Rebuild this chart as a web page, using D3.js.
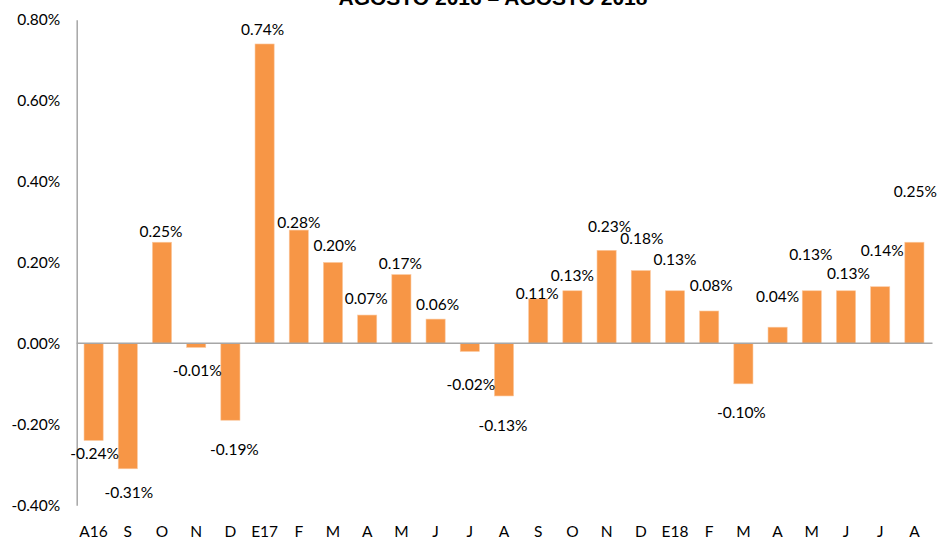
<!DOCTYPE html>
<html>
<head>
<meta charset="utf-8">
<script src="https://cdn.jsdelivr.net/npm/d3@7"></script>
<style>
  body { margin: 0; background: #fff; }
  text { font-family: Lato, "Open Sans", sans-serif; fill: #000; }
</style>
</head>
<body>
<div id="chart"></div>
<script>
// monthly change, percent
var months = ["A16","S","O","N","D","E17","F","M","A","M","J","J","A","S","O","N","D","E18","F","M","A","M","J","J","A"];
var values = [-0.24,-0.31,0.25,-0.01,-0.19,0.74,0.28,0.20,0.07,0.17,0.06,-0.02,-0.13,0.11,0.13,0.23,0.18,0.13,0.08,-0.10,0.04,0.13,0.13,0.14,0.25];
var yTicks = [-0.4,-0.2,0,0.2,0.4,0.6,0.8];
var title = "AGOSTO 2016 – AGOSTO 2018";

// hand-placed labels in the original (px from bar end)
var labelDx = [1,1,-1,1,4,-2,0,2,-1,-1,2,1,-1,-1,0,3,1,0,2,-2,0,-1,2.5,2,1];
var labelDy = [13.6,23.6,-11,22.7,29,-14.6,-7.3,-16.4,-16,-11.5,-15,33.6,30,-4.8,-14.7,-24,-31.5,-30.7,-25,29,-31,-35.7,-17.4,-36.6,-50.4];

var width = 946, height = 538;
var plotLeft = 76.7, plotRight = 931.5, plotTop = 19.7, plotBottom = 505.2;
var fmt = function (d) { return d.toFixed(2) + "%"; };

var svg = d3.select("#chart").append("svg")
    .attr("width", width)
    .attr("height", height);

var x = d3.scaleBand()
    .domain(d3.range(months.length))
    .range([76.5, plotRight])
    .paddingInner(0.44)
    .paddingOuter(0.22);

var y = d3.scaleLinear()
    .domain([-0.4, 0.8])
    .range([plotBottom, plotTop]);

// title (cut off at the top like the source image)
svg.append("text")
    .attr("x", 493)
    .attr("y", 4.5)
    .attr("text-anchor", "middle")
    .attr("style", "font-family: 'Liberation Sans', Arial, sans-serif; font-weight: bold; font-size: 21px;")
    .text(title);

// y axis
var yAxis = svg.append("g")
    .attr("transform", "translate(" + plotLeft + ",0)")
    .call(d3.axisLeft(y).tickValues(yTicks).tickFormat(fmt).tickSize(0).tickSizeOuter(0).tickPadding(16.5));
yAxis.select(".domain").attr("stroke", "#a6a6a6").attr("stroke-width", 1.5);
yAxis.selectAll("text")
    .attr("font-family", "Lato, sans-serif")
    .attr("font-size", "15.5px")
    .attr("fill", "#000");

// bars
svg.append("g").selectAll("rect")
    .data(values)
    .enter()
    .append("rect")
    .attr("x", function (d, i) { return x(i); })
    .attr("y", function (d) { return y(Math.max(d, 0)); })
    .attr("width", x.bandwidth())
    .attr("height", function (d) { return Math.abs(y(d) - y(0)); })
    .attr("fill", "#f79646")
    .attr("stroke", "#fbc9a0")
    .attr("stroke-width", 0.6);

// zero line
svg.append("line")
    .attr("x1", plotLeft)
    .attr("x2", plotRight + 1)
    .attr("y1", y(0))
    .attr("y2", y(0))
    .attr("stroke", "#a6a6a6")
    .attr("stroke-width", 1.5);

// x labels
var xAxis = svg.append("g")
    .attr("transform", "translate(0," + plotBottom + ")")
    .call(d3.axisBottom(x).tickFormat(function (i) { return months[i]; }).tickSize(0).tickPadding(21));
xAxis.select(".domain").remove();
xAxis.selectAll("text")
    .attr("font-family", "Lato, sans-serif")
    .attr("font-size", "15.5px")
    .attr("fill", "#000");

// data labels
svg.append("g").selectAll("text")
    .data(values)
    .enter()
    .append("text")
    .attr("x", function (d, i) { return x(i) + x.bandwidth() / 2 + labelDx[i]; })
    .attr("y", function (d, i) { return y(d) + labelDy[i]; })
    .attr("dy", "0.35em")
    .attr("text-anchor", "middle")
    .attr("font-size", "15.5px")
    .text(fmt);
</script>
</body>
</html>
